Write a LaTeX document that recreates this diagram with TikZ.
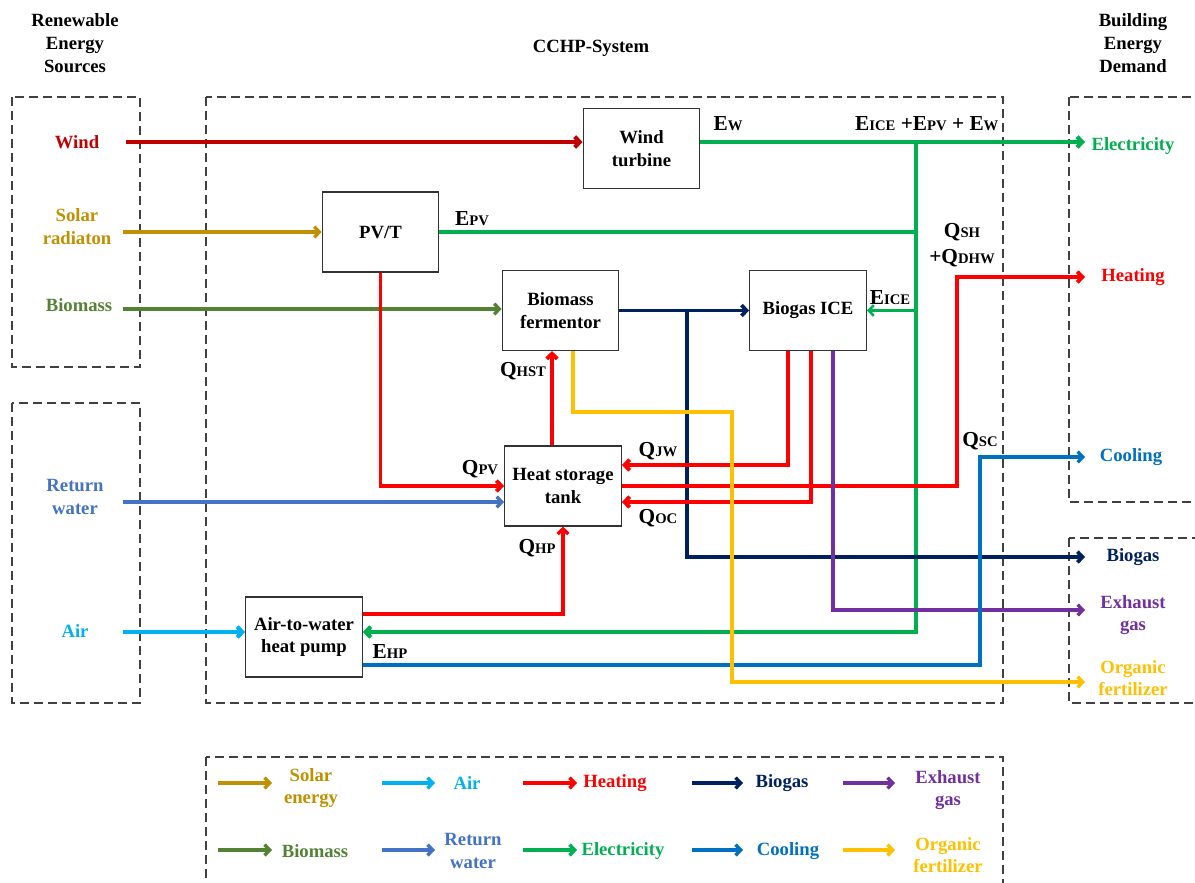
\documentclass[tikz,border=0pt]{standalone}
\usepackage{fontspec}
\setmainfont{Liberation Serif}
\usetikzlibrary{arrows.meta,calc}

\definecolor{cWind}{HTML}{C00000}
\definecolor{cSolar}{HTML}{BF9000}
\definecolor{cBio}{HTML}{548235}
\definecolor{cRet}{HTML}{4472C4}
\definecolor{cAir}{HTML}{00B0F0}
\definecolor{cHeat}{HTML}{FF0000}
\definecolor{cElec}{HTML}{00B050}
\definecolor{cBiogas}{HTML}{002060}
\definecolor{cCool}{HTML}{0070C0}
\definecolor{cExh}{HTML}{7030A0}
\definecolor{cFert}{HTML}{FFC000}

% quantity label: large letter followed by a small-size index on the baseline
\newcommand{\qty}[2]{#1{\fontsize{11}{12}\selectfont #2}}

\begin{document}
\begin{tikzpicture}[x=0.75pt,y=-0.75pt,
  font=\fontsize{14}{17}\selectfont\bfseries,
  unit/.style={draw=black!80,line width=0.9pt,minimum width=87.5pt,minimum height=60pt,
    inner sep=0pt,align=center},
  region/.style={draw=black!75,line width=0.9pt,dash pattern=on 7pt off 3.5pt},
  flow/.style={line width=2.5pt,-{Straight Barb[length=3.8pt,width=8pt]}},
  pipe/.style={line width=2.5pt},
  qlab/.style={font=\fontsize{16}{20}\selectfont\bfseries,inner sep=1pt,align=center},
  legarrow/.style={line width=2.6pt,-{Straight Barb[length=3.8pt,width=8pt]}}]
\useasboundingbox (0,0) rectangle (1195,882);

% ---- dashed regions ----
\draw[region] (12,97) rectangle (140,367);
\draw[region] (12,403) rectangle (140,703);
\draw[region] (206,97) rectangle (1003,703);
\draw[region] (1069,97) rectangle (1215,502);
\draw[region] (1069,538) rectangle (1215,703);
\draw[region] (206,757) rectangle (1003,900);

% ---- headings ----
\node[align=center] (ttlsrc) at (75,43) {Renewable\\Energy\\Sources};
\node (ttlsys) at (591,48) {CCHP-System};
\node[align=center] (ttldem) at (1133,43) {Building\\Energy\\Demand};

% ---- system units ----
\node[unit] (wt)  at (641.5,148.5) {Wind\\turbine};
\node[unit] (pvt) at (380.5,232)   {PV/T};
\node[unit] (bf)  at (560.5,310.5) {Biomass\\fermentor};
\node[unit] (ice) at (808,310.5)   {Biogas ICE};
\node[unit] (hst) at (563,486)     {Heat storage\\tank};
\node[unit] (hp)  at (304,637)     {Air-to-water\\heat pump};

% ---- sources ----
\node[text=cWind] (swind) at (77,142) {Wind};
\node[text=cSolar,align=center] (ssolar) at (77,226.5) {Solar\\radiaton};
\node[text=cBio] (sbio) at (79,305) {Biomass};
\node[text=cRet,align=center] (sret) at (75,497) {Return\\water};
\node[text=cAir] (sair) at (75,631) {Air};

\coordinate (wind0)  at (126,142);
\coordinate (solar0) at (123,232);
\coordinate (bio0)   at (123,309);
\coordinate (ret0)   at (123,502);
\coordinate (air0)   at (123,632);

% ---- demands ----
\node[text=cElec] (dElec) at (1133,146) {Electricity};
\node[text=cHeat] (dHeat) at (1133,277) {Heating};
\node[text=cCool] (dCool) at (1131,457) {Cooling};
\node[text=cBiogas] (dBiogas) at (1133,557) {Biogas};
\node[text=cExh,align=center] (dExh) at (1133,615) {Exhaust\\gas};
\node[text=cFert,align=center] (dFert) at (1133,678) {Organic\\fertilizer};

\coordinate (elecEnd) at (1085,142);
\coordinate (heatEnd) at (1085,277);
\coordinate (coolEnd) at (1085,457);
\coordinate (gasEnd)  at (1085,557);
\coordinate (exhEnd)  at (1085,610);
\coordinate (fertEnd) at (1085,682);

% ---- junctions and bends ----
\coordinate (ebus)    at (916,142);
\coordinate (ebusLow) at (916,632);
\coordinate (bgTee)   at (687,310.5);
\coordinate (hTurn)   at (957,277);
\coordinate (cTurn)   at (980,457);
\coordinate (fTurn)   at (732,412);

% ---- inputs ----
\draw[flow,cWind,line width=3.1pt] (wind0) -- (wind0 -| wt.west);
\draw[flow,cSolar] (solar0) -- (solar0 -| pvt.west);
\draw[flow,cBio] (bio0) -- (bio0 -| bf.west);
\draw[flow,cRet] (ret0) -- (ret0 -| hst.west);
\draw[flow,cAir,line width=3.1pt] (air0) -- (air0 -| hp.west);

% ---- electricity ----
\draw[flow,cElec,line width=3.1pt] (elecEnd -| wt.east) -- (elecEnd);
\draw[flow,cElec,line width=3.1pt] (ebus) -- (ebusLow) -- (ebusLow -| hp.east);
\draw[pipe,cElec] (pvt.east) -- (pvt.east -| ebus);
\draw[flow,cElec,line width=1.9pt] (ebus |- ice.east) -- (ice.east);

% ---- biogas ----
\draw[flow,cBiogas,line width=2.8pt] (bf.east) -- (ice.west);
\draw[flow,cBiogas,line width=2.8pt] (bgTee) |- (gasEnd);

% ---- heat ----
\draw[flow,cHeat,line width=2.9pt] (pvt.south) |- (hst.west);
\draw[flow,cHeat,line width=2.9pt] ($(hst.north)+(-11,0)$) coordinate (hup) -- (hup |- bf.south);
\draw[flow,cHeat,line width=2.9pt] ($(ice.south)+(-20,0)$) |- ($(hst.east)+(0,-21)$);
\draw[flow,cHeat,line width=2.9pt] ($(ice.south)+(3,0)$) |- ($(hst.east)+(0,16)$);
\draw[flow,cHeat,line width=2.9pt] (hst.east) -| (hTurn) -- (heatEnd);
\draw[flow,cHeat] ($(hp.east)+(0,-23)$) -| (hst.south);

% ---- exhaust, cooling, fertilizer ----
\draw[flow,cExh] ($(ice.south)+(25,0)$) |- (exhEnd);
\draw[flow,cCool] ($(hp.east)+(0,28)$) -| (cTurn) -- (coolEnd);
\draw[flow,cFert] ($(bf.south)+(12.5,0)$) |- (fTurn) |- (fertEnd);

% ---- quantity labels ----
\node[qlab] (lEw)   at (728,124)  {\qty{E}{W}};
\node[qlab,anchor=east] (lEsum) at (1000,124) {\qty{E}{ICE} +\qty{E}{PV} + \qty{E}{W}};
\node[qlab] (lEpv)  at (472,219)  {\qty{E}{PV}};
\node[qlab] (lEice) at (890,298)  {\qty{E}{ICE}};
\node[qlab] (lQsh)  at (962,245)  {\qty{Q}{SH}\\+\qty{Q}{DHW}};
\node[qlab] (lQsc)  at (980,441)  {\qty{Q}{SC}};
\node[qlab] (lQpv)  at (480,469)  {\qty{Q}{PV}};
\node[qlab] (lQjw)  at (658,451)  {\qty{Q}{JW}};
\node[qlab] (lQoc)  at (658,518)  {\qty{Q}{OC}};
\node[qlab] (lQhp)  at (537,548)  {\qty{Q}{HP}};
\node[qlab] (lQhst) at (523,371)  {\qty{Q}{HST}};
\node[qlab] (lEhp)  at (390,652)  {\qty{E}{HP}};

% ---- legend ----
\node[text=cSolar,align=center] (kSolar) at (311,788) {Solar\\energy};
\node[text=cAir] (kAir) at (467,783) {Air};
\node[text=cHeat] (kHeat) at (615,783) {Heating};
\node[text=cBiogas] (kGas) at (782,783) {Biogas};
\node[text=cExh,align=center] (kExh) at (948,790) {Exhaust\\gas};
\node[text=cBio] (kBio) at (315,851) {Biomass};
\node[text=cRet,align=center] (kRet) at (473,851) {Return\\water};
\node[text=cElec] (kElec) at (623,851) {Electricity};
\node[text=cCool] (kCool) at (788,851) {Cooling};
\node[text=cFert,align=center] (kFert) at (948,855) {Organic\\fertilizer};

\draw[legarrow,cSolar]  (218,783) -- (272,783);
\draw[legarrow,cAir]    (382,783) -- (435,783);
\draw[legarrow,cHeat]   (523,783) -- (577,783);
\draw[legarrow,cBiogas] (692,783) -- (743,783);
\draw[legarrow,cExh]    (843,783) -- (895,783);
\draw[legarrow,cBio]    (218,850) -- (272,850);
\draw[legarrow,cRet]    (382,850) -- (435,850);
\draw[legarrow,cElec]   (523,850) -- (577,850);
\draw[legarrow,cCool]   (692,850) -- (743,850);
\draw[legarrow,cFert]   (843,850) -- (895,850);
\end{tikzpicture}
\end{document}
